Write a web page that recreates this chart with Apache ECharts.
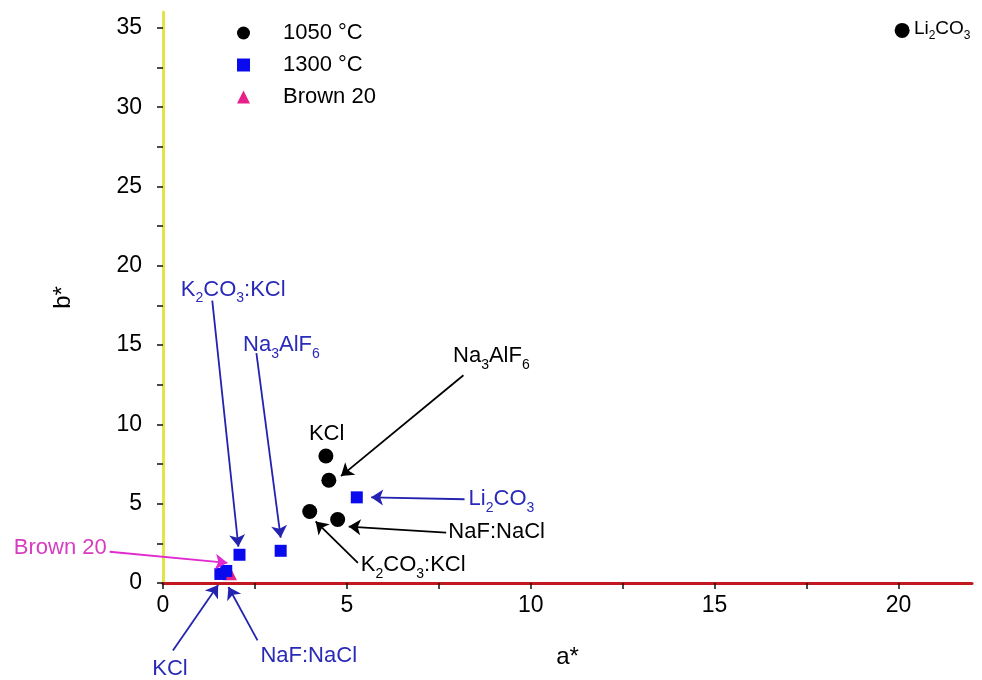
<!DOCTYPE html>
<html>
<head>
<meta charset="utf-8">
<script src="https://cdn.jsdelivr.net/npm/echarts@6/dist/echarts.min.js"></script>
<style>
  html, body { margin: 0; padding: 0; background: #fff; }
  #myChart { width: 982px; height: 680px; }
</style>
</head>
<body>
<div id="myChart"></div>
<script>
// data: [a*, b*]
const names1050 = ['KCl', 'Na3AlF6', 'K2CO3:KCl', 'NaF:NaCl', 'Li2CO3'];
const pts1050 = [[4.43, 8.01], [4.51, 6.48], [3.99, 4.51], [4.75, 4.0], [20.1, 34.84]];
const names1300 = ['Li2CO3', 'K2CO3:KCl', 'Na3AlF6', 'KCl', 'NaF:NaCl'];
const pts1300 = [[5.27, 5.40], [2.08, 1.78], [3.2, 2.03], [1.56, 0.57], [1.72, 0.76]];
const ptsBrown = [[1.82, 0.62]];

// tick values
const xTicks = [0, 2.5, 5, 7.5, 10, 12.5, 15, 17.5, 20];
const xLabels = [0, 5, 10, 15, 20];
const yTicks = [0, 2.5, 5, 7.5, 10, 12.5, 15, 17.5, 20, 22.5, 25, 27.5, 30, 32.5, 35];
const yLabels = [0, 5, 10, 15, 20, 25, 30, 35];

// annotations: label text, label anchor, arrow from -> to (data coords)
const blackNotes = [
  { text: 'Na{s|3}AlF{s|6}', at: [8.93, 14.3], pos: 'inside', from: [8.17, 13.1], to: [4.84, 6.74] },
  { text: 'KCl', at: [4.45, 9.41], pos: 'inside' },
  { text: 'NaF:NaCl', at: [7.76, 3.24], pos: 'right', from: [7.70, 3.18], to: [5.05, 3.56] },
  { text: 'K{s|2}CO{s|3}:KCl', at: [5.38, 1.14], pos: 'right', from: [5.30, 1.27], to: [4.15, 3.88] }
];
const topNote = [
  { text: 'Li{s|2}CO{s|3}', at: [20.42, 34.96], pos: 'right' }
];
const blueNotes = [
  { text: 'K{s|2}CO{s|3}:KCl', at: [1.91, 18.5], pos: 'inside', from: [1.34, 17.8], to: [2.05, 2.29] },
  { text: 'Na{s|3}AlF{s|6}', at: [3.22, 15.0], pos: 'inside', from: [2.54, 14.5], to: [3.20, 2.86] },
  { text: 'Li{s|2}CO{s|3}', at: [8.31, 5.28], pos: 'right', from: [8.2, 5.28], to: [5.66, 5.40] },
  { text: 'KCl', at: [0.19, -5.4], pos: 'inside', from: [0.27, -4.26], to: [1.50, -0.13] },
  { text: 'NaF:NaCl', at: [2.65, -4.58], pos: 'right', from: [2.57, -3.62], to: [1.78, -0.25] }
];
const pinkNotes = [
  { text: 'Brown 20', at: [-1.53, 2.22], pos: 'left', from: [-1.45, 1.97], to: [1.75, 1.27] }
];

const FONT = 'Liberation Sans, Arial, sans-serif';

function arrowSeries(notes, color) {
  return {
    type: 'lines',
    coordinateSystem: 'cartesian2d',
    clip: false,
    silent: true,
    symbol: ['none', 'arrow'],
    symbolSize: 12,
    lineStyle: { color: color, width: 1.8, opacity: 1 },
    data: notes.filter(n => n.from).map(n => ({ coords: [n.from, n.to] })),
    z: 4
  };
}

function labelSeries(notes, color, size, subSize) {
  const pad = Math.round(size * 0.8);
  const rich = { s: { fontSize: subSize, lineHeight: subSize, padding: [pad, 0, 0, 0], color: color, fontFamily: FONT } };
  return {
    type: 'scatter',
    clip: false,
    silent: true,
    symbolSize: 0,
    itemStyle: { opacity: 1 },
    data: notes.map(n => ({
      value: n.at,
      label: {
        show: true,
        position: n.pos,
        distance: 0,
        formatter: n.text,
        color: color,
        fontSize: size,
        lineHeight: size + 2,
        fontFamily: FONT,
        rich: rich
      }
    })),
    z: 5
  };
}

const myChart = echarts.init(document.getElementById('myChart'));
myChart.setOption({
  animation: false,
  grid: { left: 163, right: 10, top: 12, bottom: 97, containLabel: false },
  legend: {
    orient: 'vertical',
    left: 232,
    top: 17,
    itemWidth: 13,
    itemHeight: 13,
    itemGap: 10,
    data: ['1050 °C', '1300 °C', 'Brown 20'],
    textStyle: { fontSize: 22, fontFamily: FONT, color: '#000', padding: [0, 0, 0, 28] }
  },
  xAxis: {
    type: 'value',
    min: 0,
    max: 22,
    name: 'a*',
    nameLocation: 'middle',
    nameGap: 62,
    nameTextStyle: { fontSize: 24, fontFamily: FONT, color: '#000' },
    axisLine: { onZero: false, lineStyle: { color: '#c0181e', width: 3 } },
    axisTick: { show: true, customValues: xTicks, length: 6, lineStyle: { color: '#111', width: 1.5 } },
    axisLabel: { customValues: xLabels, margin: 11, fontSize: 23, fontFamily: FONT, color: '#000' },
    splitLine: { show: false }
  },
  yAxis: {
    type: 'value',
    min: 0,
    max: 36,
    name: 'b*',
    nameLocation: 'middle',
    nameGap: 88,
    nameTextStyle: { fontSize: 24, fontFamily: FONT, color: '#000' },
    axisLine: { onZero: false, lineStyle: { color: '#e4e44a', width: 3 } },
    axisTick: { show: true, customValues: yTicks, length: 6, lineStyle: { color: '#111', width: 1.5 } },
    axisLabel: { customValues: yLabels, margin: 21, fontSize: 23, fontFamily: FONT, color: '#000' },
    splitLine: { show: false }
  },
  series: [
    {
      name: 'Brown 20',
      type: 'scatter',
      symbol: 'triangle',
      symbolSize: 14,
      itemStyle: { color: '#e8208a', opacity: 1 },
      data: ptsBrown,
      z: 2
    },
    {
      name: '1050 °C',
      type: 'scatter',
      symbol: 'circle',
      symbolSize: 15,
      itemStyle: { color: '#000', opacity: 1 },
      data: pts1050.map((p, i) => ({ name: names1050[i], value: p })),
      z: 3
    },
    {
      name: '1300 °C',
      type: 'scatter',
      symbol: 'rect',
      symbolSize: 12,
      itemStyle: { color: '#0a0aee', opacity: 1 },
      data: pts1300.map((p, i) => ({ name: names1300[i], value: p })),
      z: 3
    },
    arrowSeries(blackNotes, '#000'),
    arrowSeries(blueNotes, '#2323b0'),
    arrowSeries(pinkNotes, '#e02ad0'),
    labelSeries(blackNotes, '#000', 22, 14),
    labelSeries(topNote, '#000', 19, 12),
    labelSeries(blueNotes, '#2a2ab8', 22, 14),
    labelSeries(pinkNotes, '#d83cc0', 22, 14)
  ]
});
</script>
</body>
</html>
